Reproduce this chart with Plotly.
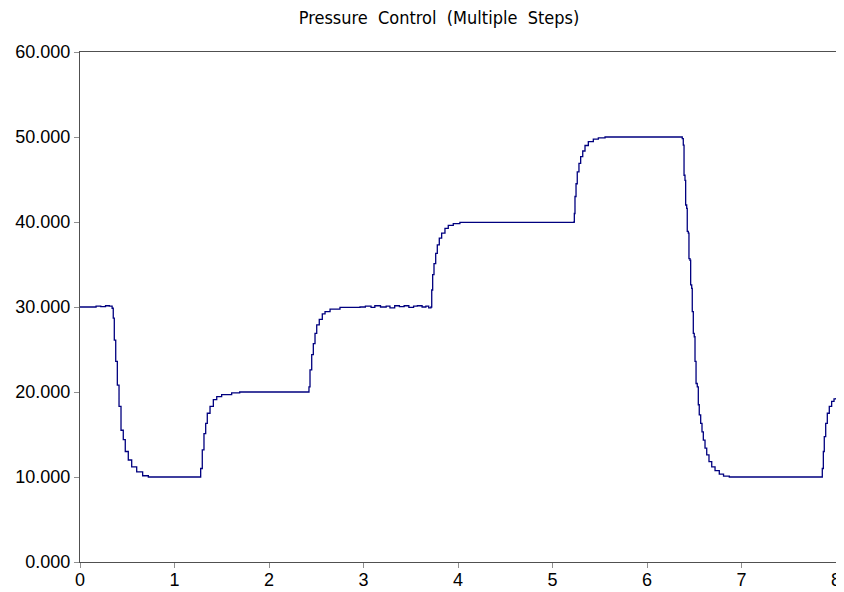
import plotly.graph_objects as go

# time (s) and pressure readings
time = [0.00, 0.10, 0.17, 0.22, 0.27, 0.31, 0.340, 0.352, 0.363, 0.378, 0.395, 0.413, 0.434,
        0.458, 0.479, 0.511, 0.547, 0.600, 0.663, 0.723,
        1.270, 1.277, 1.294, 1.312, 1.330, 1.347, 1.376, 1.411, 1.447, 1.499, 1.605, 1.690,
        2.416, 2.423, 2.434, 2.452, 2.469, 2.487, 2.505, 2.532, 2.564, 2.593, 2.646, 2.751, 2.963,
        3.02, 3.08, 3.12, 3.18, 3.24, 3.28, 3.33, 3.38, 3.43, 3.48, 3.53, 3.57, 3.62, 3.66, 3.69,
        3.714, 3.722, 3.732, 3.746, 3.764, 3.781, 3.802, 3.827, 3.862, 3.897, 3.950, 4.020,
        5.227, 5.231, 5.238, 5.249, 5.262, 5.280, 5.298, 5.320, 5.344, 5.379, 5.432, 5.485, 5.556,
        6.373, 6.384, 6.392, 6.402, 6.409, 6.420, 6.426, 6.437, 6.444, 6.455, 6.462, 6.473,
        6.479, 6.490, 6.500, 6.508, 6.519, 6.532, 6.543, 6.553, 6.568, 6.582, 6.596, 6.614,
        6.632, 6.656, 6.685, 6.720, 6.765, 6.810, 6.871,
        7.848, 7.855, 7.866, 7.876, 7.891, 7.908, 7.929, 7.954, 7.979, 8.000]

pressure = [30.0, 30.0, 30.1, 30.05, 30.15, 30.1, 29.85, 28.7, 26.1, 23.6, 20.8, 18.3, 15.5,
            14.4, 13.0, 12.0, 11.2, 10.6, 10.15, 10.0,
            10.0, 11.0, 13.2, 15.1, 16.3, 17.5, 18.3, 19.1, 19.45, 19.7, 19.9, 20.0,
            20.0, 20.6, 22.6, 24.4, 25.7, 26.9, 27.9, 28.55, 29.2, 29.45, 29.76, 29.95, 30.0,
            30.1, 29.95, 30.15, 30.0, 30.1, 29.9, 30.15, 30.05, 30.15, 29.95, 30.1, 30.15, 30.0, 30.1, 29.9,
            30.0, 32.0, 33.8, 35.1, 36.3, 37.3, 38.1, 38.7, 39.25, 39.6, 39.8, 39.95,
            40.0, 41.0, 43.0, 44.5, 45.9, 46.9, 47.7, 48.35, 49.0, 49.45, 49.76, 49.9, 50.0,
            49.8, 49.05, 45.5, 44.9, 42.0, 41.6, 38.9, 38.7, 35.7, 35.5, 32.6, 32.2,
            29.45, 26.9, 26.5, 23.6, 21.0, 20.6, 18.5, 17.3, 16.3, 15.3, 14.35, 13.4,
            12.6, 11.8, 11.2, 10.75, 10.35, 10.1, 10.0,
            10.0, 11.0, 13.0, 14.75, 16.3, 17.5, 18.3, 18.9, 19.2, 19.3]

x_ticks = [0, 1, 2, 3, 4, 5, 6, 7, 8]
y_ticks = [0, 10, 20, 30, 40, 50, 60]

fig = go.Figure()
fig.add_trace(go.Scatter(
    x=time, y=pressure, mode="lines", line_shape="hv",
    line=dict(color="#00007f", width=1.3), showlegend=False,
))

axis_common = dict(
    showline=True, linecolor="#505050", linewidth=1.2, mirror=True,
    showgrid=False, zeroline=False, ticks="outside", ticklen=5,
    tickcolor="#909090", tickwidth=1, automargin=False, ticklabeloverflow="allow",
    tickfont=dict(family="Liberation Sans, Arial, sans-serif", size=18, color="#000000"),
)
inner_ticks = dict(
    showline=False, showgrid=False, zeroline=False, ticks="inside", ticklen=4,
    tickcolor="#909090", tickwidth=1, showticklabels=False, automargin=False,
)

# the page body adds an 8px offset, so the figure is 8px smaller and shifted
fig.update_layout(
    width=836, height=584,
    paper_bgcolor="white", plot_bgcolor="white",
    margin=dict(l=72, r=8, t=44, b=30, autoexpand=False),
    title=dict(text="Pressure  Control  (Multiple  Steps)", x=0.5156, xref="container",
               xanchor="center", y=0.983, yref="container", yanchor="middle",
               font=dict(family="Liberation Sans Narrow, DejaVu Sans Condensed, sans-serif",
                         size=18, color="#000000")),
    xaxis=dict(range=[0, 8], tickvals=x_ticks, ticktext=[str(v) for v in x_ticks],
               ticklabelstandoff=-4, **axis_common),
    yaxis=dict(range=[0, 60], tickvals=y_ticks, ticktext=[f"{v:.3f}" for v in y_ticks], **axis_common),
    xaxis2=dict(range=[0, 8], tickvals=x_ticks, overlaying="x", anchor="y", side="bottom", **inner_ticks),
    yaxis2=dict(range=[0, 60], tickvals=y_ticks, overlaying="y", anchor="x", side="left", **inner_ticks),
)

fig.write_html("out.html")
